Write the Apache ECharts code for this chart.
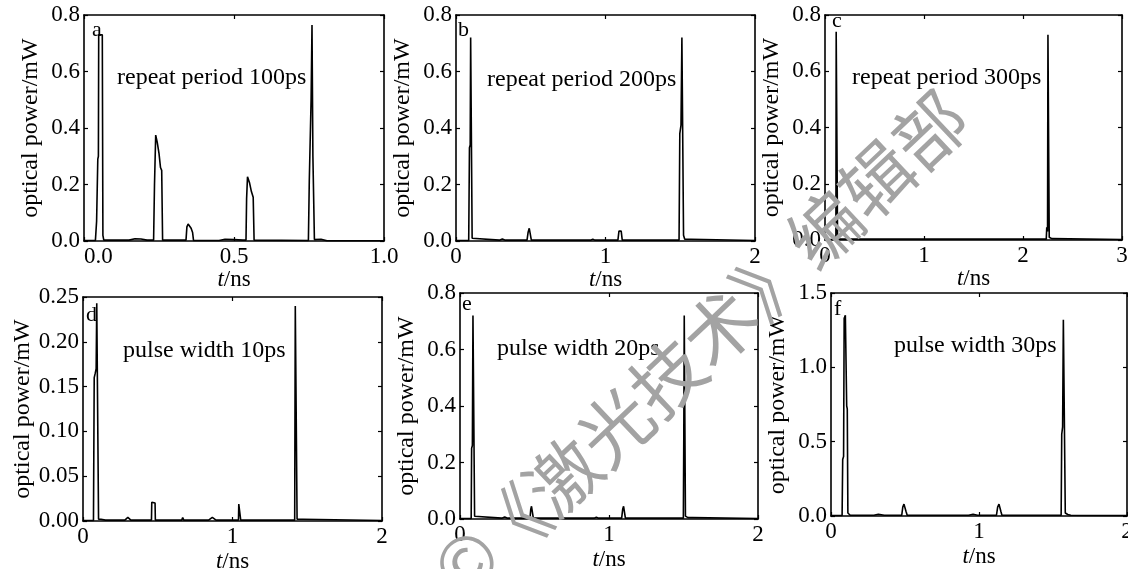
<!DOCTYPE html>
<html>
<head>
<meta charset="utf-8">
<script src="https://cdn.jsdelivr.net/npm/echarts@6/dist/echarts.min.js"></script>
<style>
html,body{margin:0;padding:0;background:#fff;}
#chart{width:1128px;height:569px;}
</style>
</head>
<body>
<div id="chart"></div>
<script>
// ---------- data: [t (ns), optical power (mW)] ----------
const seriesA = [[0,0.002],[0.038,0.002],[0.042,0.07],[0.046,0.29],[0.048,0.30],[0.049,0.73],[0.061,0.73],[0.063,0.02],[0.066,0.003],[0.15,0.003],[0.17,0.008],[0.19,0.007],[0.21,0.003],[0.232,0.003],[0.235,0.2],[0.239,0.375],[0.244,0.35],[0.250,0.31],[0.255,0.26],[0.259,0.25],[0.262,0.003],[0.34,0.003],[0.343,0.05],[0.347,0.06],[0.352,0.057],[0.357,0.045],[0.362,0.03],[0.365,0.002],[0.45,0.002],[0.47,0.006],[0.50,0.005],[0.53,0.003],[0.540,0.003],[0.542,0.15],[0.545,0.227],[0.552,0.205],[0.558,0.175],[0.564,0.155],[0.567,0.003],[0.570,0.002],[0.748,0.002],[0.751,0.215],[0.754,0.22],[0.757,0.5],[0.760,0.765],[0.763,0.3],[0.768,0.005],[0.772,0.006],[0.79,0.006],[0.81,0.001],[1.0,0.001]];
const seriesB = [[0,0.002],[0.085,0.002],[0.09,0.33],[0.095,0.34],[0.098,0.72],[0.104,0.72],[0.108,0.01],[0.115,0.004],[0.29,0.003],[0.31,0.007],[0.33,0.003],[0.475,0.003],[0.482,0.03],[0.49,0.045],[0.497,0.04],[0.504,0.003],[0.90,0.003],[0.915,0.006],[0.93,0.003],[1.083,0.003],[1.09,0.035],[1.097,0.04],[1.105,0.035],[1.112,0.003],[1.492,0.003],[1.497,0.38],[1.505,0.41],[1.511,0.72],[1.518,0.72],[1.522,0.02],[1.53,0.006],[1.57,0.006],[1.58,0.002],[2,0.002]];
const seriesC = [[0,0.002],[0.11,0.002],[0.113,0.74],[0.123,0.74],[0.127,0.003],[0.44,0.003],[0.455,0.008],[0.47,0.003],[0.71,0.003],[0.725,0.008],[0.74,0.003],[1.35,0.003],[1.365,0.008],[1.38,0.003],[1.62,0.003],[1.635,0.008],[1.65,0.003],[2.235,0.003],[2.24,0.045],[2.248,0.03],[2.252,0.73],[2.26,0.73],[2.265,0.01],[2.29,0.005],[2.31,0.002],[3,0.002]];
const seriesD = [[0,0.0005],[0.07,0.0005],[0.075,0.16],[0.082,0.165],[0.088,0.17],[0.092,0.243],[0.100,0.243],[0.104,0.002],[0.12,0.002],[0.15,0.001],[0.28,0.001],[0.30,0.004],[0.32,0.001],[0.458,0.001],[0.46,0.021],[0.482,0.02],[0.484,0.001],[0.66,0.001],[0.667,0.004],[0.674,0.001],[0.84,0.001],[0.865,0.004],[0.89,0.001],[1.040,0.001],[1.042,0.019],[1.053,0.019],[1.055,0.001],[1.416,0.001],[1.420,0.24],[1.428,0.24],[1.432,0.002],[1.44,0.002],[1.47,0.002],[1.48,0.0005],[2,0.0005]];
const seriesE = [[0,0.002],[0.075,0.002],[0.078,0.25],[0.083,0.26],[0.087,0.72],[0.094,0.72],[0.098,0.01],[0.11,0.004],[0.28,0.003],[0.30,0.007],[0.32,0.003],[0.47,0.003],[0.475,0.035],[0.48,0.045],[0.487,0.04],[0.492,0.003],[0.90,0.003],[0.915,0.006],[0.93,0.003],[1.085,0.003],[1.092,0.035],[1.098,0.045],[1.104,0.04],[1.11,0.003],[1.499,0.003],[1.502,0.3],[1.505,0.72],[1.51,0.72],[1.513,0.01],[1.53,0.005],[1.56,0.005],[1.57,0.002],[2,0.002]];
const seriesF = [[0,0.003],[0.075,0.003],[0.079,0.38],[0.085,0.40],[0.089,1.33],[0.097,1.35],[0.102,1.35],[0.106,0.74],[0.11,0.72],[0.114,0.02],[0.12,0.01],[0.13,0.005],[0.29,0.005],[0.32,0.012],[0.36,0.005],[0.478,0.005],[0.485,0.06],[0.493,0.08],[0.502,0.07],[0.507,0.03],[0.515,0.005],[0.93,0.005],[0.96,0.012],[0.99,0.005],[1.118,0.005],[1.126,0.06],[1.135,0.08],[1.143,0.07],[1.148,0.03],[1.155,0.005],[1.555,0.005],[1.559,0.55],[1.565,0.6],[1.57,1.32],[1.578,1.32],[1.583,0.02],[1.6,0.01],[1.62,0.005],[2,0.003]];

// ---------- tick labels ----------
const xLabelsA = ['0.0','0.5','1.0'];
const xLabelsB = ['0','1','2'];
const xLabelsC = ['0','1','2','3'];
const xLabelsD = ['0','1','2'];
const xLabelsE = ['0','1','2'];
const xLabelsF = ['0','1','2'];
const yLabelsA = ['0.0','0.2','0.4','0.6','0.8'];
const yLabelsB = ['0.0','0.2','0.4','0.6','0.8'];
const yLabelsC = ['0.0','0.2','0.4','0.6','0.8'];
const yLabelsD = ['0.00','0.05','0.10','0.15','0.20','0.25'];
const yLabelsE = ['0.0','0.2','0.4','0.6','0.8'];
const yLabelsF = ['0.0','0.5','1.0','1.5'];

// ---------- texts ----------
const panelLetters = ['a','b','c','d','e','f'];
const panelNotes = ['repeat period 100ps','repeat period 200ps','repeat period 300ps','pulse width 10ps','pulse width 20ps','pulse width 30ps'];
const yName = 'optical power/mW';
const watermark = '《激光技术》编辑部';

// ---------- layout ----------
const FONT = 'Liberation Serif';
const FS = 23;
const grids = [
  {left:84, top:15, width:300, height:226},
  {left:456, top:15, width:299, height:226},
  {left:825, top:15, width:297, height:225},
  {left:83, top:297, width:299, height:224},
  {left:460, top:293, width:298, height:226},
  {left:831, top:293, width:296, height:223}
];
const xNameGaps = [16, 16, 16, 29, 29, 29];
const letterOff = [[8,15],[2,15],[7,6],[3,18],[2,11],[3,16]];
const noteOff = [[33,63],[31,65],[27,63],[40,54],[37,56],[63,53]];

const allSeries = [seriesA,seriesB,seriesC,seriesD,seriesE,seriesF];
const allX = [xLabelsA,xLabelsB,xLabelsC,xLabelsD,xLabelsE,xLabelsF];
const allY = [yLabelsA,yLabelsB,yLabelsC,yLabelsD,yLabelsE,yLabelsF];

function scaleOf(labels){
  const min = parseFloat(labels[0]);
  const max = parseFloat(labels[labels.length-1]);
  const interval = (max-min)/(labels.length-1);
  return {min, max, interval, fmt: v => labels[Math.round((v-min)/interval)] || ''};
}

const black = '#000';
const option = {
  backgroundColor:'#fff',
  animation:false,
  grid: grids.map(g => Object.assign({outerBoundsMode:'none', containLabel:false}, g)),
  xAxis: [], yAxis: [], series: [], graphic: []
};

for (let i=0;i<6;i++){
  const sx = scaleOf(allX[i]);
  const sy = scaleOf(allY[i]);
  const common = {gridIndex:i, type:'value', splitLine:{show:false}};
  option.xAxis.push(Object.assign({}, common, {
    min:sx.min, max:sx.max, interval:sx.interval, position:'bottom',
    axisLine:{show:true, onZero:false, lineStyle:{color:black, width:1.6}},
    axisTick:{show:true, inside:true, length:4, lineStyle:{color:black, width:1.2}},
    axisLabel:{show:true, color:black, fontFamily:FONT, fontSize:FS, margin:4, formatter:sx.fmt,
      alignMinLabel: i===0 ? 'left' : 'center'},
    name:'{i|t}/ns', nameLocation:'middle', nameGap:xNameGaps[i],
    nameTextStyle:{color:black, fontFamily:FONT, fontSize:FS, verticalAlign:'top',
      rich:{i:{fontStyle:'italic', fontFamily:FONT, fontSize:FS, color:black}}}
  }));
  option.xAxis.push(Object.assign({}, common, {
    min:sx.min, max:sx.max, interval:sx.interval, position:'top',
    axisLine:{show:true, onZero:false, lineStyle:{color:black, width:1.6}},
    axisTick:{show:true, inside:true, length:4, lineStyle:{color:black, width:1.2}},
    axisLabel:{show:false}
  }));
  option.yAxis.push(Object.assign({}, common, {
    min:sy.min, max:sy.max, interval:sy.interval, position:'left',
    axisLine:{show:true, onZero:false, lineStyle:{color:black, width:1.6}},
    axisTick:{show:true, inside:true, length:4, lineStyle:{color:black, width:1.2}},
    axisLabel:{show:true, color:black, fontFamily:FONT, fontSize:FS, margin:4, formatter:sy.fmt},
    name:yName, nameLocation:'middle', nameGap:41, nameRotate:90,
    nameTextStyle:{color:black, fontFamily:FONT, fontSize:24}
  }));
  option.yAxis.push(Object.assign({}, common, {
    min:sy.min, max:sy.max, interval:sy.interval, position:'right',
    axisLine:{show:true, onZero:false, lineStyle:{color:black, width:1.6}},
    axisTick:{show:true, inside:true, length:4, lineStyle:{color:black, width:1.2}},
    axisLabel:{show:false}
  }));
  option.series.push({
    type:'line', xAxisIndex:2*i, yAxisIndex:2*i, data:allSeries[i],
    showSymbol:false, symbol:'none', smooth:false, clip:true,
    lineStyle:{color:black, width:1.6}
  });
  const g = grids[i];
  option.graphic.push({type:'text', x:g.left+letterOff[i][0], y:g.top+letterOff[i][1], z:50,
    style:{text:panelLetters[i], fill:black, font:'22px "Liberation Serif"', align:'left', verticalAlign:'middle'}});
  option.graphic.push({type:'text', x:g.left+noteOff[i][0], y:g.top+noteOff[i][1], z:50,
    style:{text:panelNotes[i], fill:black, font:'24px "Liberation Serif"', align:'left', verticalAlign:'middle'}});
}

const rot = 43.4*Math.PI/180;
option.graphic.push({type:'text', x:720, y:328, rotation:rot, z:100,
  style:{text:watermark, fill:'#a3a3a3', font:'72px "Noto Sans CJK SC"', align:'center', verticalAlign:'middle'}});
option.graphic.push({type:'text', x:466, y:562, rotation:rot, z:100,
  style:{text:'©', fill:'#a3a3a3', font:'72px "Noto Sans CJK SC"', align:'center', verticalAlign:'middle'}});

const chart = echarts.init(document.getElementById('chart'), null, {renderer:'canvas'});
chart.setOption(option);
</script>
</body>
</html>
